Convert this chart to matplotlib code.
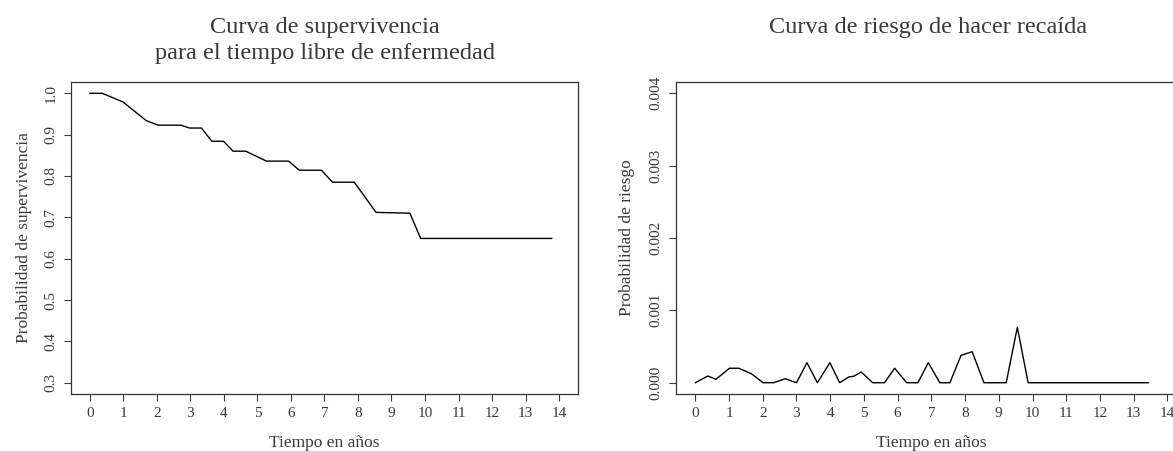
import matplotlib
matplotlib.use('Agg')
import matplotlib.pyplot as plt

plt.rcParams.update({
    'font.family': ['Liberation Serif', 'DejaVu Serif'],
    'text.color': '#3a3a3a',
    'axes.labelcolor': '#3a3a3a',
    'xtick.color': '#3a3a3a',
    'ytick.color': '#3a3a3a',
    'axes.edgecolor': '#333333',
})

# survival curve (disease-free time)
surv_t = [0, 0.37, 0.99, 1.68, 2.03, 2.72, 2.97, 3.33, 3.64, 3.99, 4.27, 4.65,
          5.27, 5.93, 6.25, 6.91, 7.24, 7.89, 8.54, 9.55, 9.87, 13.78]
surv_p = [1.0, 1.0, 0.979, 0.934, 0.923, 0.923, 0.916, 0.916, 0.884, 0.884, 0.860, 0.860,
          0.836, 0.836, 0.814, 0.814, 0.785, 0.785, 0.712, 0.710, 0.649, 0.649]

# hazard curve (relapse risk)
haz_t = [0, 0.37, 0.61, 1.01, 1.29, 1.66, 2.01, 2.32, 2.67, 3.00, 3.31, 3.62, 3.99,
         4.28, 4.55, 4.70, 4.92, 5.26, 5.61, 5.91, 6.27, 6.60, 6.91, 7.25, 7.55,
         7.88, 8.21, 8.56, 8.89, 9.22, 9.55, 9.87, 13.43]
haz_p = [0, 0.000093, 0.000047, 0.0002, 0.0002, 0.000125, 0, 0, 0.000055, 0, 0.000277, 0,
         0.000277, 0, 0.00008, 0.00009, 0.000148, 0, 0, 0.0002, 0, 0, 0.000277, 0, 0,
         0.000378, 0.000429, 0, 0, 0, 0.000766, 0, 0]

xticks = list(range(0, 15))
surv_yticks = [0.3, 0.4, 0.5, 0.6, 0.7, 0.8, 0.9, 1.0]
haz_yticks = [0.0, 0.001, 0.002, 0.003, 0.004]

fig = plt.figure(figsize=(11.73, 4.51), dpi=100)
ax1 = fig.add_axes([0.0606, 0.1257, 0.4320, 0.6931])
ax2 = fig.add_axes([0.5767, 0.1257, 0.4346, 0.6931])


def style(ax, yticks, yfmt):
    ax.set_xlim(-0.56, 14.56)
    ax.set_xticks(xticks)
    ax.set_xticklabels([str(v) for v in xticks])
    ax.set_yticks(yticks)
    ax.set_yticklabels([yfmt.format(v) for v in yticks], rotation=90, va='center')
    ax.tick_params(direction='out', length=5, width=0.8, labelsize=11)
    ax.tick_params(axis='y', pad=5)
    ax.tick_params(axis='x', pad=4)
    for s in ax.spines.values():
        s.set_linewidth(0.9)
    ax.set_xlabel("Tiempo en años", fontsize=12.5, va='center')
    ax.xaxis.set_label_coords(0.5, -0.156)


ax1.plot(surv_t, surv_p, color='black', lw=1.0)
ax1.set_ylim(0.272, 1.028)
style(ax1, surv_yticks, "{:.1f}")
ax1.set_ylabel("Probabilidad de supervivencia", fontsize=12.5, va='center')
ax1.yaxis.set_label_coords(-0.092, 0.5)

ax2.plot(haz_t, haz_p, color='black', lw=1.0)
ax2.set_ylim(-0.00016, 0.00416)
style(ax2, haz_yticks, "{:.3f}")
ax2.set_ylabel("Probabilidad de riesgo", fontsize=12.5, va='center')
ax2.yaxis.set_label_coords(-0.097, 0.5)

fig.text(325 / 1173, 1 - 17 / 451, "Curva de supervivencia\npara el tiempo libre de enfermedad",
         ha='center', va='top', fontsize=17.5, linespacing=1.3)
fig.text(928 / 1173, 1 - 17 / 451, "Curva de riesgo de hacer recaída",
         ha='center', va='top', fontsize=17.5)

fig.savefig("out.png", dpi=100)
